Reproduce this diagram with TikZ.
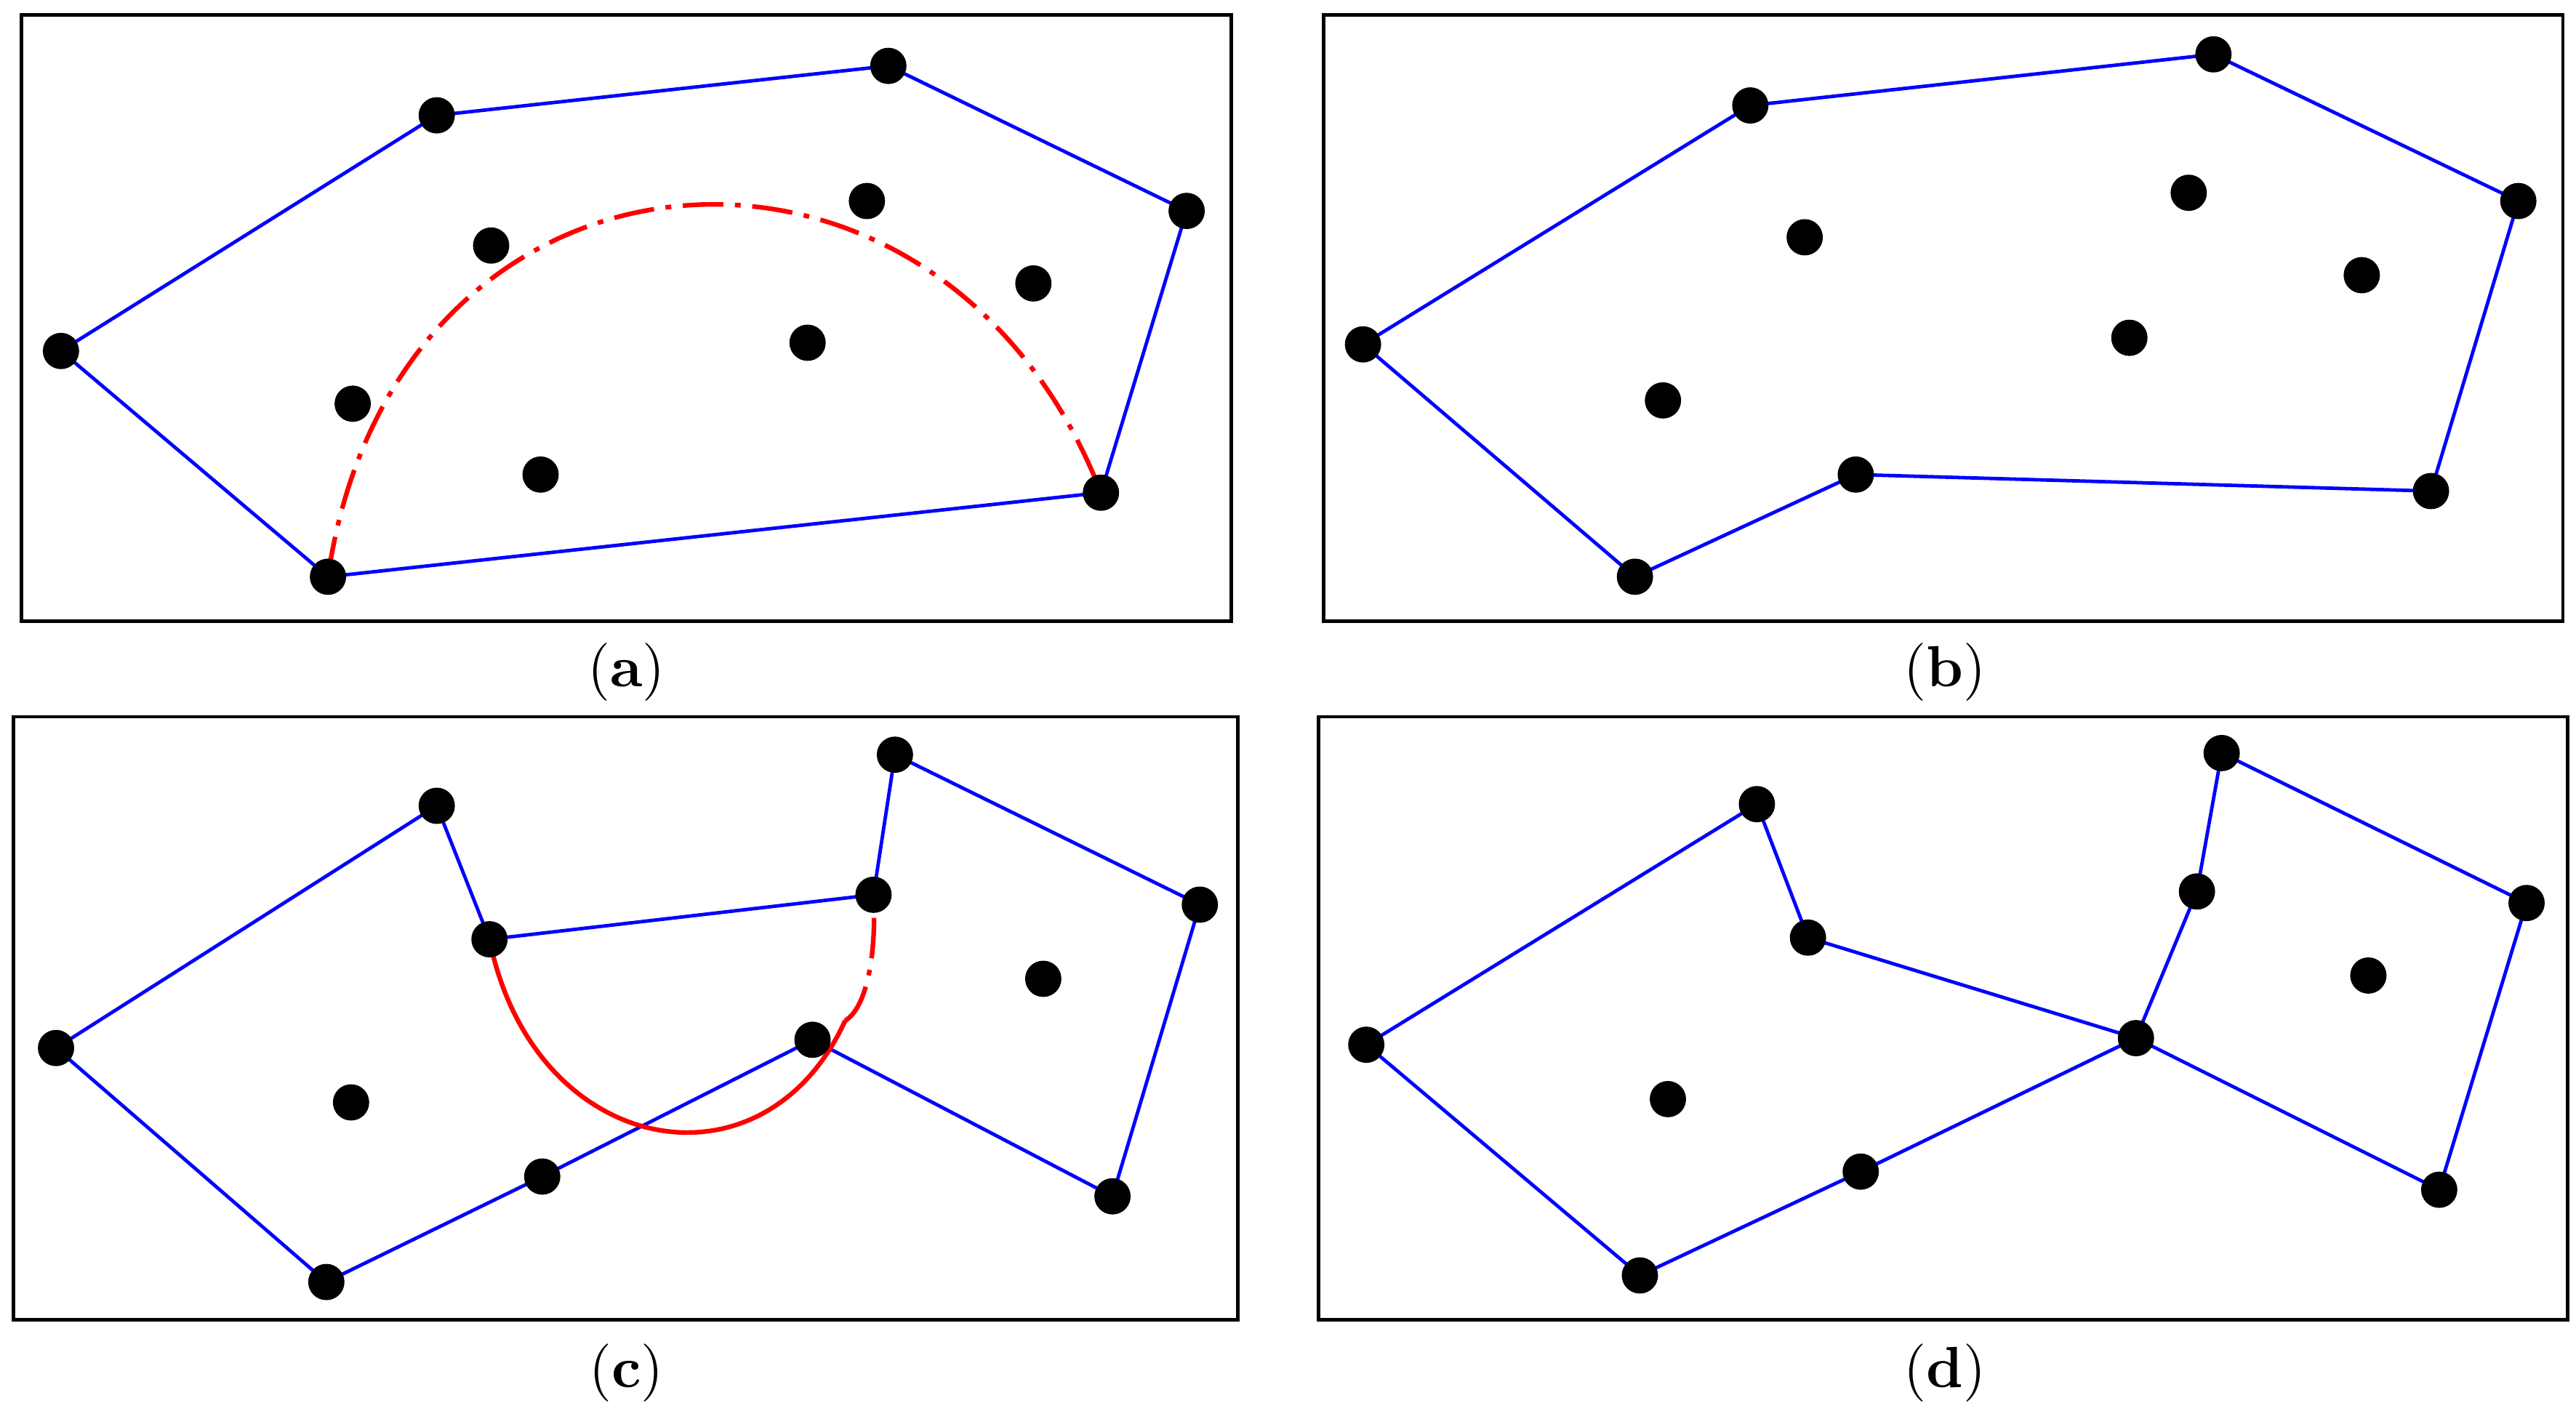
\documentclass[tikz,border=0pt]{standalone}
\begin{document}
\begin{tikzpicture}[x=0.01cm,y=-0.01cm,
  frame/.style={draw=black,line width=0.6pt},
  edge/.style={draw=blue,line width=0.6pt},
  dot/.style={circle,fill=black,inner sep=0pt,minimum size=0.22cm},
  redc/.style={draw=red,line width=0.8pt},
  lab/.style={font=\fontsize{10}{12}\selectfont}]
\useasboundingbox (0,0) rectangle (1563,861);
% (a)
\draw[frame] (13,9) rectangle (747,377);
\coordinate (a1) at (37,213); \coordinate (a2) at (265,70); \coordinate (a3) at (539,40);
\coordinate (a4) at (720,128); \coordinate (a5) at (668,299); \coordinate (a6) at (199,350);
\draw[edge] (a1)--(a2)--(a3)--(a4)--(a5)--(a6)--cycle;
\draw[redc,dash pattern=on 7pt off 2pt on 1pt off 2pt] (a6) .. controls (240,70) and (570,47) .. (a5);
\foreach \n in {a1,a2,a3,a4,a5,a6} \node[dot] at (\n) {};
\foreach \p in {(298,149),(526,122),(627,172),(490,208),(214,245),(328,288)} \node[dot] at \p {};
\node[lab] (la) at (380,408) {(\textbf{a})};
% (b)
\draw[frame] (803,9) rectangle (1555,377);
\coordinate (b1) at (827,209); \coordinate (b2) at (1062,64); \coordinate (b3) at (1343,33);
\coordinate (b4) at (1528,122); \coordinate (b5) at (1475,298); \coordinate (b6) at (1126,288);
\coordinate (b7) at (992,350);
\draw[edge] (b1)--(b2)--(b3)--(b4)--(b5)--(b6)--(b7)--cycle;
\foreach \n in {b1,b2,b3,b4,b5,b6,b7} \node[dot] at (\n) {};
\foreach \p in {(1095,144),(1328,117),(1433,167),(1292,205),(1009,243)} \node[dot] at \p {};
\node[lab] (lb) at (1180,408) {(\textbf{b})};
% (c)
\draw[frame] (8,435) rectangle (751,801);
\coordinate (c1) at (34,636); \coordinate (c2) at (265,489); \coordinate (c3) at (297,570);
\coordinate (c4) at (530,543); \coordinate (c5) at (543,458); \coordinate (c6) at (728,549);
\coordinate (c7) at (675,726); \coordinate (c8) at (493,631); \coordinate (c9) at (329,714);
\coordinate (c10) at (198,778);
\draw[edge] (c1)--(c2)--(c3)--(c4)--(c5)--(c6)--(c7)--(c8)--(c9)--(c10)--cycle;
\coordinate (cm) at (512.8,619.4);
\draw[redc] (c3) .. controls (323.4,702) and (463.08,728.4) .. (cm);
\draw[redc,dash pattern=on 7pt off 2pt on 1pt off 2pt] (cm) .. controls (525.2,612.1) and (532,581.4) .. (c4);
\foreach \n in {c1,c2,c3,c4,c5,c6,c7,c8,c9,c10} \node[dot] at (\n) {};
\foreach \p in {(213,669),(633,594)} \node[dot] at \p {};
\node[lab] (lc) at (380,833) {(\textbf{c})};
% (d)
\draw[frame] (800,435) rectangle (1558,801);
\coordinate (d1) at (829,634); \coordinate (d2) at (1066,488); \coordinate (d3) at (1097,569);
\coordinate (d4) at (1296,630); \coordinate (d5) at (1333,541); \coordinate (d6) at (1348,457);
\coordinate (d7) at (1533,548); \coordinate (d8) at (1480,722); \coordinate (d9) at (1129,711);
\coordinate (d10) at (995,774);
\draw[edge] (d1)--(d2)--(d3)--(d4)--(d5)--(d6)--(d7)--(d8)--(d4)--(d9)--(d10)--cycle;
\foreach \n in {d1,d2,d3,d4,d5,d6,d7,d8,d9,d10} \node[dot] at (\n) {};
\foreach \p in {(1012,667),(1437,592)} \node[dot] at \p {};
\node[lab] (ld) at (1180,833) {(\textbf{d})};
\end{tikzpicture}
\end{document}
